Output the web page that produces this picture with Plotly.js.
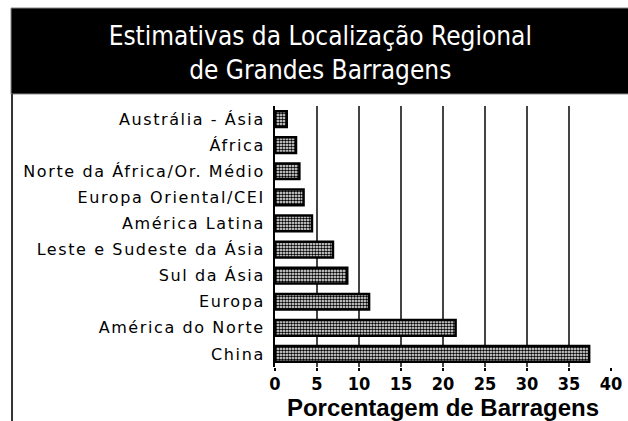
<!DOCTYPE html>
<html>
<head>
<meta charset="utf-8">
<script src="https://cdn.plot.ly/plotly-3.0.1.min.js"></script>
<style>
html,body{margin:0;padding:0;background:#fff;}
#chart{width:628px;height:421px;}
.ytick text{letter-spacing:1.6px;}
</style>
</head>
<body>
<div id="chart"></div>
<script>
var regions = ["Austrália - Ásia", "África", "Norte da África/Or. Médio", "Europa Oriental/CEI", "América Latina", "Leste e Sudeste da Ásia", "Sul da Ásia", "Europa", "América do Norte", "China"];
var percentages = [1.4, 2.5, 2.9, 3.4, 4.4, 6.9, 8.6, 11.2, 21.5, 37.4];
var xTicks = [0, 5, 10, 15, 20, 25, 30, 35, 40];
var titleText = "Estimativas da Localização Regional<br>de Grandes Barragens";
var xTitle = "Porcentagem de Barragens";

var trace = {
  type: "bar",
  orientation: "h",
  y: regions,
  x: percentages,
  marker: {
    color: "#ffffff",
    line: {color: "#000000", width: 2.5},
    pattern: {shape: ".", fgcolor: "#000000", bgcolor: "#ffffff", size: 3, solidity: 0.55}
  },
  hoverinfo: "none"
};

var layout = {
  width: 628, height: 421,
  margin: {l: 275, r: 17, t: 106, b: 54},
  paper_bgcolor: "#ffffff",
  plot_bgcolor: "#ffffff",
  showlegend: false,
  bargap: 0.4,
  title: {
    text: titleText,
    x: 0.51, xanchor: "center",
    y: 0.893, yanchor: "middle",
    font: {family: "DejaVu Sans Condensed, sans-serif", size: 26, color: "#ffffff"}
  },
  xaxis: {
    range: [0, 40],
    tickvals: xTicks,
    ticktext: xTicks.map(String),
    showgrid: true, gridcolor: "#444444", gridwidth: 2,
    zeroline: false,
    showline: false,
    ticks: "outside", ticklen: 3, tickwidth: 2, tickcolor: "#000",
    ticklabelstandoff: -3,
    tickfont: {family: "DejaVu Sans Condensed, sans-serif", size: 18, color: "#000", weight: "bold"},
    title: {text: xTitle, standoff: 0, font: {family: "Liberation Sans, Arial, sans-serif", size: 24, color: "#000", weight: "bold"}}
  },
  yaxis: {
    autorange: "reversed",
    showgrid: false,
    zeroline: false,
    showline: true, linecolor: "#000", linewidth: 2,
    ticks: "",
    ticklabelstandoff: 5,
    tickfont: {family: "DejaVu Sans, sans-serif", size: 16, color: "#000"}
  },
  shapes: [
    {type: "rect", xref: "paper", yref: "paper", x0: -0.7857, x1: 1.07, y0: 1.046, y1: 1.3755,
     fillcolor: "#000", line: {color: "#888", width: 1}, layer: "below"},
    {type: "line", xref: "paper", yref: "paper", x0: -0.7827, x1: -0.7827, y0: 1.046, y1: -0.21,
     line: {color: "#333", width: 2}, layer: "below"}
  ]
};

Plotly.newPlot("chart", [trace], layout, {displayModeBar: false, staticPlot: true});
</script>
</body>
</html>
